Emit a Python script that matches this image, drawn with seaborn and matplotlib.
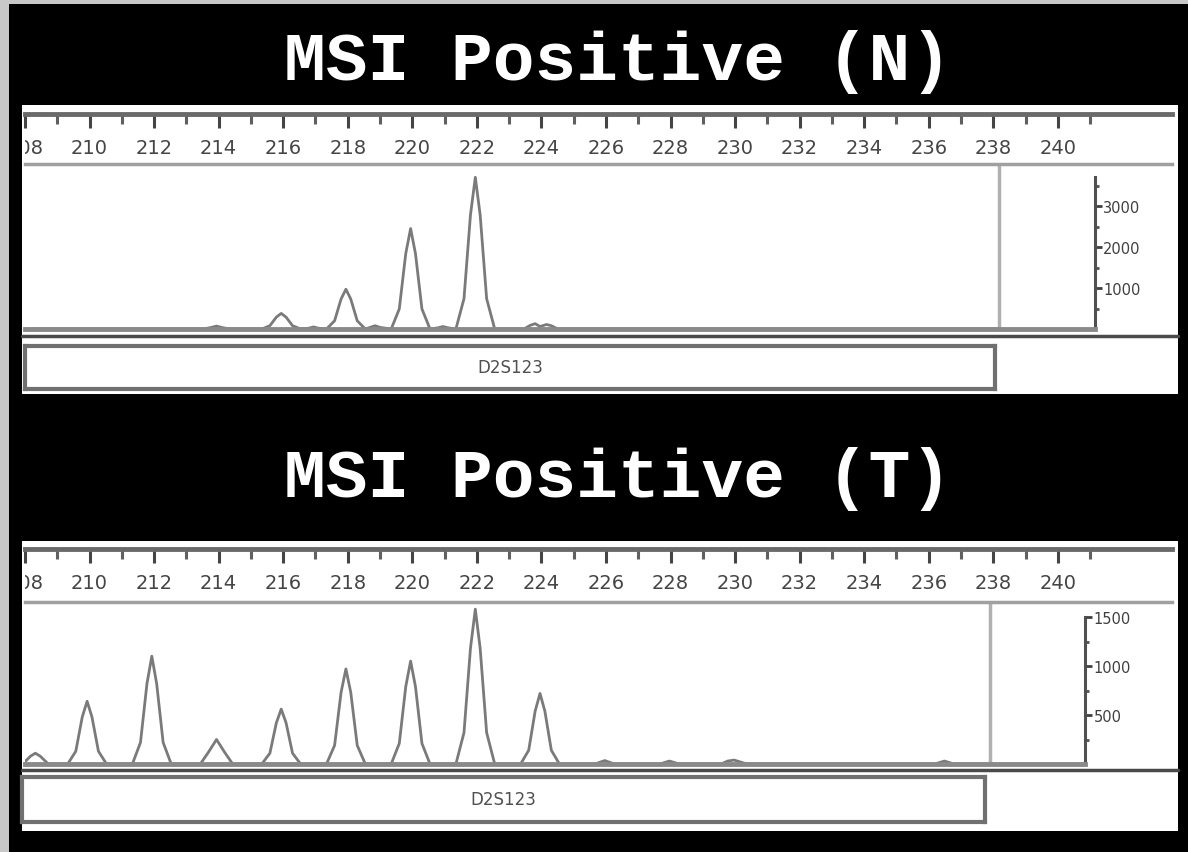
import matplotlib
matplotlib.use("Agg")
import matplotlib.pyplot as plt
import seaborn as sns
import pandas as pd
from matplotlib.patches import Rectangle
from matplotlib.lines import Line2D
from matplotlib.ticker import FixedLocator

sns.set_theme(style="white")
plt.rcParams['font.family'] = ['DejaVu Sans']

W, H = 1188, 853

titles = ["MSI Positive (N)", "MSI Positive (T)"]
marker_labels = ["D2S123", "D2S123"]
ruler_major = list(range(208, 242, 2))
ruler_minor = list(range(209, 242, 2))
n_yticks = [1000, 2000, 3000]
n_yminor = [500, 1500, 2500, 3500]
t_yticks = [500, 1000, 1500]
t_yminor = [250, 750, 1250]

# Normal sample trace (size in bp, signal in RFU)
n_bp = [208.1, 213.6, 213.85, 214.0, 214.15, 214.4,
        215.4, 215.65, 215.85, 216.0, 216.15, 216.35, 216.6,
        216.85, 217.0, 217.15,
        217.4, 217.65, 217.85, 218.0, 218.15, 218.35, 218.6,
        218.75, 218.9, 219.05,
        219.4, 219.65, 219.85, 220.0, 220.15, 220.35, 220.6,
        220.85, 221.0, 221.15,
        221.4, 221.65, 221.85, 222.0, 222.15, 222.35, 222.6,
        223.5, 223.7, 223.85, 224.0, 224.2, 224.35, 224.55,
        238.2]
n_rfu = [0, 0, 40, 70, 40, 0,
         0, 80, 290, 380, 290, 80, 0,
         20, 50, 20,
         0, 200, 730, 970, 730, 200, 0,
         40, 80, 40,
         0, 490, 1840, 2450, 1840, 490, 0,
         30, 60, 30,
         0, 740, 2780, 3700, 2780, 740, 0,
         0, 90, 130, 60, 110, 80, 0,
         0]

# Tumour sample trace
t_bp = [208.1, 208.25, 208.4, 208.55, 208.8,
        209.4, 209.65, 209.85, 210.0, 210.15, 210.35, 210.6,
        211.4, 211.65, 211.85, 212.0, 212.15, 212.35, 212.6,
        213.5, 213.75, 214.0, 214.25, 214.5,
        215.4, 215.65, 215.85, 216.0, 216.15, 216.35, 216.6,
        217.4, 217.65, 217.85, 218.0, 218.15, 218.35, 218.6,
        219.4, 219.65, 219.85, 220.0, 220.15, 220.35, 220.6,
        221.4, 221.65, 221.85, 222.0, 222.15, 222.35, 222.6,
        223.4, 223.65, 223.85, 224.0, 224.15, 224.35, 224.6,
        225.7, 226.0, 226.3,
        227.7, 228.0, 228.3,
        229.6, 229.8, 230.0, 230.2, 230.4,
        236.2, 236.5, 236.8,
        238.0]
t_rfu = [30, 80, 110, 80, 0,
         0, 130, 480, 640, 480, 130, 0,
         0, 220, 820, 1100, 820, 220, 0,
         0, 120, 250, 120, 0,
         0, 110, 420, 560, 420, 110, 0,
         0, 190, 730, 970, 730, 190, 0,
         0, 210, 790, 1050, 790, 210, 0,
         0, 320, 1180, 1580, 1180, 320, 0,
         0, 140, 540, 720, 540, 140, 0,
         0, 35, 0,
         0, 30, 0,
         0, 30, 40, 20, 0,
         0, 30, 0,
         0]

PX_PER_BP = 32.35
X0_PX, X0_BP = 25, 208.08


def fr(x0, y0, x1, y1):
    return [x0 / W, 1 - y1 / H, (x1 - x0) / W, (y1 - y0) / H]


def bp_at(px):
    return X0_BP + (px - X0_PX) / PX_PER_BP


fig = plt.figure(figsize=(W / 100, H / 100), dpi=100, facecolor="#c8c8c8")
fig.patches.append(Rectangle((9 / W, 0), 1 - 9 / W, 1 - 5 / H,
                             transform=fig.transFigure, facecolor="black",
                             edgecolor="none", zorder=-3))

panels = [
    dict(title_y=62, panel=(22, 106, 1178, 395), ruler=(25, 115, 1172, 165),
         plot=(25, 165, 1095, 330), px_per_unit=0.041, box_edge=238.2,
         line_y=337, bar=(25, 347, 995, 390), yt=n_yticks, ym=n_yminor,
         ybound=3700, bp=n_bp, rfu=n_rfu),
    dict(title_y=479, panel=(22, 542, 1178, 832), ruler=(25, 550, 1172, 603),
         plot=(25, 603, 1085, 765), px_per_unit=0.098, box_edge=237.9,
         line_y=771, bar=(22, 778, 985, 823), yt=t_yticks, ym=t_yminor,
         ybound=1500, bp=t_bp, rfu=t_rfu),
]

for i, p in enumerate(panels):
    fig.text(0.52, 1 - p["title_y"] / H, titles[i], ha="center", va="center",
             color="white", fontsize=50, fontweight="bold",
             family=["Liberation Mono", "DejaVu Sans Mono"])
    x0, y0, x1, y1 = p["panel"]
    fig.patches.append(Rectangle((x0 / W, 1 - y1 / H), (x1 - x0) / W, (y1 - y0) / H,
                                 transform=fig.transFigure, facecolor="white",
                                 edgecolor="none", zorder=-2))

    # trace axes
    px0, py0, px1, py1 = p["plot"]
    ax = fig.add_axes(fr(*p["plot"]))
    ax.set_facecolor("none")
    df = pd.DataFrame({"bp": p["bp"], "rfu": p["rfu"]})
    sns.lineplot(data=df, x="bp", y="rfu", ax=ax, color="#7a7a7a", lw=2.0,
                 estimator=None, sort=False)
    ax.set_xlim(X0_BP, bp_at(px1))
    ax.set_ylim(0, (py1 - py0) / p["px_per_unit"])
    ax.axvline(p["box_edge"], color="#b0b0b0", lw=2.5)
    ax.set_xlabel("")
    ax.set_ylabel("")
    ax.set_xticks([])
    ax.yaxis.tick_right()
    ax.set_yticks(p["yt"])
    ax.yaxis.set_minor_locator(FixedLocator(p["ym"]))
    ax.tick_params(axis="y", which="major", right=True, left=False, direction="out",
                   length=5, width=2, pad=1, labelsize=10.5, colors="#404040")
    ax.tick_params(axis="y", which="minor", right=True, left=False, direction="out",
                   length=3, width=2, colors="#505050")
    for s in ["top", "left"]:
        ax.spines[s].set_visible(False)
    ax.spines["right"].set_color("#505050")
    ax.spines["right"].set_linewidth(2.2)
    ax.spines["right"].set_bounds(0, p["ybound"])
    ax.spines["bottom"].set_color("#8a8a8a")
    ax.spines["bottom"].set_linewidth(3.5)

    # ruler axes
    rx0, ry0, rx1, ry1 = p["ruler"]
    ar = fig.add_axes(fr(*p["ruler"]))
    ar.set_facecolor("none")
    ar.set_xlim(X0_BP, bp_at(rx1))
    ar.set_ylim(0, 1)
    ar.set_yticks([])
    ar.xaxis.set_ticks_position("top")
    ar.set_xticks(ruler_major)
    ar.xaxis.set_minor_locator(FixedLocator(ruler_minor))
    ar.tick_params(axis="x", which="major", direction="in", top=True, bottom=False,
                   labeltop=True, labelbottom=False, length=10, width=2.2,
                   pad=-31, labelsize=14, colors="#454545")
    ar.tick_params(axis="x", which="minor", direction="in", top=True, bottom=False,
                   length=7, width=2.2, colors="#606060")
    for lbl in ar.get_xticklabels():
        lbl.set_clip_on(True)
        lbl.set_clip_box(ar.bbox)
    for s in ["left", "right"]:
        ar.spines[s].set_visible(False)
    ar.spines["top"].set_color("#6a6a6a")
    ar.spines["top"].set_linewidth(3.5)
    ar.spines["bottom"].set_color("#a0a0a0")
    ar.spines["bottom"].set_linewidth(2.5)

    fig.add_artist(Line2D([22 / W, 1178 / W], [1 - p["line_y"] / H] * 2,
                          transform=fig.transFigure, color="#4a4a4a", lw=2.5))

    # marker bar
    ab = fig.add_axes(fr(*p["bar"]))
    ab.set_facecolor("white")
    ab.set_xticks([])
    ab.set_yticks([])
    for s in ab.spines.values():
        s.set_color("#707070")
        s.set_linewidth(3)
    ab.text(0.5, 0.5, marker_labels[i], transform=ab.transAxes, ha="center",
            va="center", fontsize=12, color="#505050")

fig.savefig("out.png", dpi=100, facecolor=fig.get_facecolor())
